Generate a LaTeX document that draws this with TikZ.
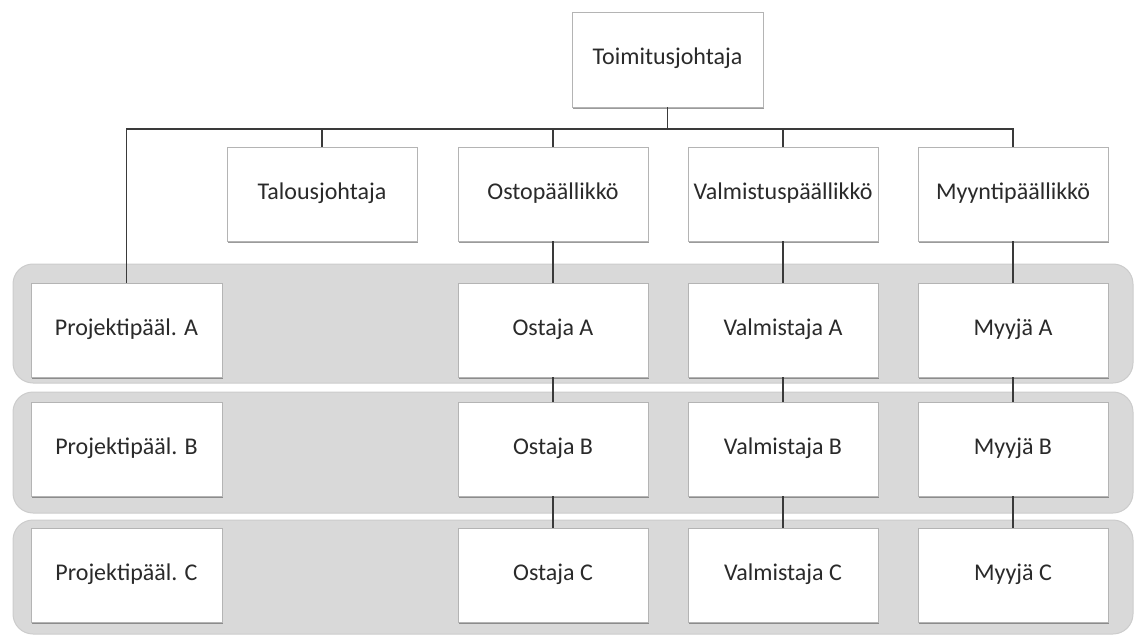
\documentclass[tikz,border=0pt]{standalone}
\usepackage{fontspec}
\setmainfont{Carlito}
\usetikzlibrary{shadows}
\definecolor{bandgray}{HTML}{D9D9D9}
\definecolor{bandedge}{HTML}{CCCCCC}
\definecolor{boxedge}{HTML}{B4B4B4}
\definecolor{linkgray}{HTML}{3A3A3A}
\definecolor{textgray}{HTML}{2A2A2A}
\tikzset{
  orgbox/.style={draw=boxedge, line width=0.8pt, fill=white, rectangle,
    minimum width=190pt, minimum height=94pt, inner sep=0pt,
    text height=16pt, text depth=5pt,
    text=textgray, font=\fontsize{24}{28}\selectfont,
    drop shadow={shadow xshift=1pt, shadow yshift=-2pt, opacity=0.6, fill=black!65}},
  band/.style={fill=bandgray, draw=bandedge, line width=1pt, rounded corners=20pt},
  link/.style={draw=linkgray, line width=1.4pt}
}
\begin{document}
\begin{tikzpicture}[x=1pt, y=-1pt]
\useasboundingbox (0,0) rectangle (1134,636);
% level bands
\path[band] (13,264) rectangle (1133,383);
\path[band] (13,392) rectangle (1133,513);
\path[band] (13,520) rectangle (1133,634);

% managing director
\node[orgbox, minimum width=191pt, minimum height=95pt] (ceo) at (667.5,59.5) {Toimitusjohtaja};
% department heads
\node[orgbox] (tal)  at (322,194)  {Talousjohtaja};
\node[orgbox] (osto) at (553,194)  {Ostopäällikkö};
\node[orgbox] (valm) at (783,194)  {Valmistuspäällikkö};
\node[orgbox] (myyp) at (1013,194) {Myyntipäällikkö};
% staff rows
\node[orgbox, minimum width=191pt] (pA) at (126.5,330) {Projektipääl. A};
\node[orgbox, minimum width=191pt] (pB) at (126.5,449) {Projektipääl. B};
\node[orgbox, minimum width=191pt] (pC) at (126.5,575) {Projektipääl. C};
\node[orgbox] (oA) at (553,330) {Ostaja A};
\node[orgbox] (oB) at (553,449) {Ostaja B};
\node[orgbox] (oC) at (553,575) {Ostaja C};
\node[orgbox] (vA) at (783,330) {Valmistaja A};
\node[orgbox] (vB) at (783,449) {Valmistaja B};
\node[orgbox] (vC) at (783,575) {Valmistaja C};
\node[orgbox] (mA) at (1013,330) {Myyjä A};
\node[orgbox] (mB) at (1013,449) {Myyjä B};
\node[orgbox] (mC) at (1013,575) {Myyjä C};

% connectors
\coordinate (bus) at (667.5,129);
\draw[link] (ceo.south) -- (bus);
\draw[link] (pA.north) |- (bus -| myyp.north) -- (myyp.north);
\draw[link] (tal.north) -- (tal.north |- bus);
\draw[link] (osto.north) -- (osto.north |- bus);
\draw[link] (valm.north) -- (valm.north |- bus);
\draw[link] (osto.south) -- (oA.north);
\draw[link] (oA.south) -- (oB.north);
\draw[link] (oB.south) -- (oC.north);
\draw[link] (valm.south) -- (vA.north);
\draw[link] (vA.south) -- (vB.north);
\draw[link] (vB.south) -- (vC.north);
\draw[link] (myyp.south) -- (mA.north);
\draw[link] (mA.south) -- (mB.north);
\draw[link] (mB.south) -- (mC.north);
\end{tikzpicture}
\end{document}
